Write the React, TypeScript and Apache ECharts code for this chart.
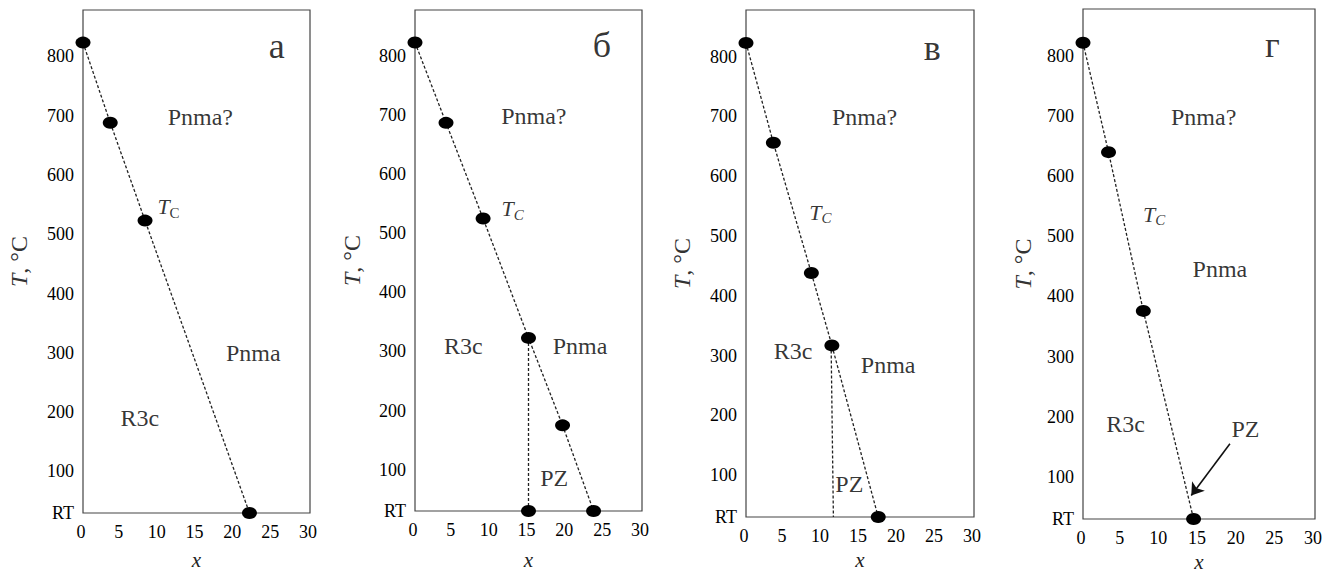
import React, { useEffect, useRef } from "react";
import * as echarts from "echarts";

// ---- axis ticks ----
const xTickValues = [0, 5, 10, 15, 20, 25, 30];
const yTickValues = [30, 100, 200, 300, 400, 500, 600, 700, 800];
const yTickLabels = ["RT", "100", "200", "300", "400", "500", "600", "700", "800"];
const yMin = 30;
const yMax = 878;
const xMin = 0;
const xMax = 30;

// ---- panel а ----
const aBoundaryX = [0, 3.6, 8.2, 22.0];
const aBoundaryT = [823, 688, 523, 30];
const aDotsX = [0, 3.6, 8.2, 22.0];
const aDotsT = [823, 688, 523, 30];
const aLabels = [
  { text: "а", x: 25.6, t: 818, kind: "panel" },
  { text: "Pnma?", x: 15.5, t: 698, kind: "phase" },
  { text: "TC", x: 11.3, t: 546, kind: "tc" },
  { text: "Pnma", x: 22.5, t: 300, kind: "phase" },
  { text: "R3c", x: 7.5, t: 190, kind: "phase" },
];

// ---- panel б ----
const bBoundaryX = [0, 4.1, 9.0, 15.0, 19.5, 23.6];
const bBoundaryT = [823, 687, 525, 323, 175, 30];
const bPzX = [15.0, 15.0];
const bPzT = [323, 30];
const bDotsX = [0, 4.1, 9.0, 15.0, 19.5, 23.6, 15.0];
const bDotsT = [823, 687, 525, 323, 175, 30, 30];
const bLabels = [
  { text: "б", x: 24.7, t: 818, kind: "panel" },
  { text: "Pnma?", x: 15.7, t: 698, kind: "phase" },
  { text: "TC", x: 12.9, t: 542, kind: "tci" },
  { text: "R3c", x: 6.4, t: 309, kind: "phase" },
  { text: "Pnma", x: 21.8, t: 309, kind: "phase" },
  { text: "PZ", x: 18.4, t: 86, kind: "phase" },
];

// ---- panel в ----
const cBoundaryX = [0, 3.6, 8.6, 11.3, 17.4];
const cBoundaryT = [823, 656, 438, 317, 30];
const cPzX = [11.2, 11.5];
const cPzT = [317, 30];
const cDotsX = [0, 3.6, 8.6, 11.3, 17.4];
const cDotsT = [823, 656, 438, 317, 30];
const cLabels = [
  { text: "в", x: 24.5, t: 814, kind: "panel" },
  { text: "Pnma?", x: 15.6, t: 699, kind: "phase" },
  { text: "TC", x: 9.8, t: 540, kind: "tci" },
  { text: "R3c", x: 6.2, t: 307, kind: "phase" },
  { text: "Pnma", x: 18.7, t: 285, kind: "phase" },
  { text: "PZ", x: 13.6, t: 86, kind: "phase" },
];

// ---- panel г ----
const dBoundaryX = [0, 3.3, 7.8, 14.3];
const dBoundaryT = [822, 640, 376, 30];
const dDotsX = [0, 3.3, 7.8, 14.3];
const dDotsT = [822, 640, 376, 30];
const dArrowX = [19.0, 14.0];
const dArrowT = [155, 69];
const dLabels = [
  { text: "г", x: 24.5, t: 818, kind: "panel" },
  { text: "Pnma?", x: 15.6, t: 699, kind: "phase" },
  { text: "TC", x: 9.2, t: 537, kind: "tci" },
  { text: "Pnma", x: 17.7, t: 446, kind: "phase" },
  { text: "R3c", x: 5.5, t: 188, kind: "phase" },
  { text: "PZ", x: 21.0, t: 179, kind: "phase" },
];

// ---- layout ----
const gridLeft = [83, 415, 746, 1083];
const gridTop = [10, 10, 10, 9];
const gridWidth = [227, 227, 228, 232];
const gridHeight = [503, 501, 507, 510];
const xNameGap = [36, 38, 30, 24];
const yNameGap = [52, 51, 52, 48];

const FONT = "Liberation Serif";
const INK = "#000";

const zip = (xs: number[], ts: number[]) => xs.map((x, i) => [x, ts[i]]);

type Lbl = { text: string; x: number; t: number; kind: string };

function labelSeries(idx: number, labels: Lbl[]) {
  return {
    type: "scatter",
    xAxisIndex: idx,
    yAxisIndex: idx,
    symbolSize: 1,
    itemStyle: { color: "rgba(0,0,0,0)" },
    silent: true,
    clip: false,
    z: 5,
    data: labels.map((l) => ({
      value: [l.x, l.t],
      name: l.text,
      label: {
        show: true,
        position: "inside",
        fontFamily: FONT,
        color: INK,
        fontSize: l.kind === "panel" ? 36 : 24,
        formatter:
          l.kind === "tc"
            ? "{i|T}{s|C}"
            : l.kind === "tci"
            ? "{i|T}{si|C}"
            : l.text,
        rich: {
          i: { fontFamily: FONT, fontStyle: "italic", fontSize: 22, color: INK, lineHeight: 24 },
          s: { fontFamily: FONT, fontSize: 15, color: INK, padding: [12, 0, 0, 0], lineHeight: 16 },
          si: { fontFamily: FONT, fontStyle: "italic", fontSize: 15, color: INK, padding: [12, 0, 0, 0], lineHeight: 16 },
        },
      },
    })),
  };
}

function dashed(idx: number, xs: number[], ts: number[], extra: any = {}) {
  return {
    type: "line",
    xAxisIndex: idx,
    yAxisIndex: idx,
    data: zip(xs, ts),
    symbol: "none",
    silent: true,
    z: 2,
    itemStyle: { color: "#111" },
    lineStyle: { type: [3, 2], width: 1.3, color: "#222" },
    ...extra,
  };
}

function dots(idx: number, xs: number[], ts: number[]) {
  return {
    type: "scatter",
    xAxisIndex: idx,
    yAxisIndex: idx,
    data: zip(xs, ts),
    symbol: "circle",
    symbolSize: [15, 12],
    itemStyle: { color: "#000", opacity: 1 },
    silent: true,
    clip: false,
    z: 4,
  };
}

export default function App() {
  const ref = useRef<HTMLDivElement>(null);
  useEffect(() => {
    if (!ref.current) return;
    const chart = echarts.init(ref.current, undefined, { renderer: "svg" });
    const grids = gridLeft.map((l, i) => ({
      left: l,
      top: gridTop[i],
      width: gridWidth[i],
      height: gridHeight[i],
      show: true,
      borderColor: "#444",
      borderWidth: 1.2,
      backgroundColor: "transparent",
      containLabel: false,
      outerBoundsMode: "none",
    }));
    const xAxes = gridLeft.map((_, i) => ({
      type: "value",
      gridIndex: i,
      min: xMin,
      max: xMax,
      interval: 5,
      name: "x",
      nameLocation: "middle",
      nameGap: xNameGap[i],
      nameTextStyle: { fontFamily: FONT, fontStyle: "italic", fontSize: 21, color: "#222" },
      axisLine: { show: false },
      axisTick: { show: false },
      splitLine: { show: false },
      axisLabel: {
        customValues: xTickValues,
        fontFamily: FONT,
        fontSize: 18,
        color: INK,
        margin: 10,
        padding: [0, 4, 0, 0],
        showMinLabel: true,
        showMaxLabel: true,
      },
    }));
    const yAxes = gridLeft.map((_, i) => ({
      type: "value",
      gridIndex: i,
      min: yMin,
      max: yMax,
      name: "{i|T}, °C",
      nameLocation: "middle",
      nameGap: yNameGap[i],
      nameRotate: 90,
      nameTextStyle: {
        fontFamily: FONT,
        fontSize: 24,
        color: "#333",
        rich: { i: { fontFamily: FONT, fontStyle: "italic", fontSize: 24, color: "#333" } },
      },
      axisLine: { show: false },
      axisTick: { show: false },
      splitLine: { show: false },
      axisLabel: {
        customValues: yTickValues,
        formatter: (v: number) => {
          const k = yTickValues.indexOf(v);
          return k >= 0 ? yTickLabels[k] : "";
        },
        fontFamily: FONT,
        fontSize: 18,
        color: INK,
        margin: 9,
      },
    }));
    const series: any[] = [
      dashed(0, aBoundaryX, aBoundaryT),
      dots(0, aDotsX, aDotsT),
      labelSeries(0, aLabels),
      dashed(1, bBoundaryX, bBoundaryT),
      dashed(1, bPzX, bPzT),
      dots(1, bDotsX, bDotsT),
      labelSeries(1, bLabels),
      dashed(2, cBoundaryX, cBoundaryT),
      dashed(2, cPzX, cPzT),
      dots(2, cDotsX, cDotsT),
      labelSeries(2, cLabels),
      dashed(3, dBoundaryX, dBoundaryT, {
        markLine: {
          silent: true,
          symbol: ["none", "arrow"],
          symbolSize: 12,
          label: { show: false },
          emphasis: { disabled: true },
          itemStyle: { color: "#111" },
          lineStyle: { type: "solid", color: "#111", width: 1.6 },
          data: [
            [
              { coord: [dArrowX[0], dArrowT[0]] },
              { coord: [dArrowX[1], dArrowT[1]] },
            ],
          ],
        },
      }),
      dots(3, dDotsX, dDotsT),
      labelSeries(3, dLabels),
    ];
    chart.setOption({
      animation: false,
      backgroundColor: "#fff",
      grid: grids,
      xAxis: xAxes,
      yAxis: yAxes,
      series,
    });
    return () => chart.dispose();
  }, []);
  return (
    <div
      ref={ref}
      style={{ position: "fixed", left: 0, top: 0, width: 1341, height: 571, background: "#fff" }}
    />
  );
}
